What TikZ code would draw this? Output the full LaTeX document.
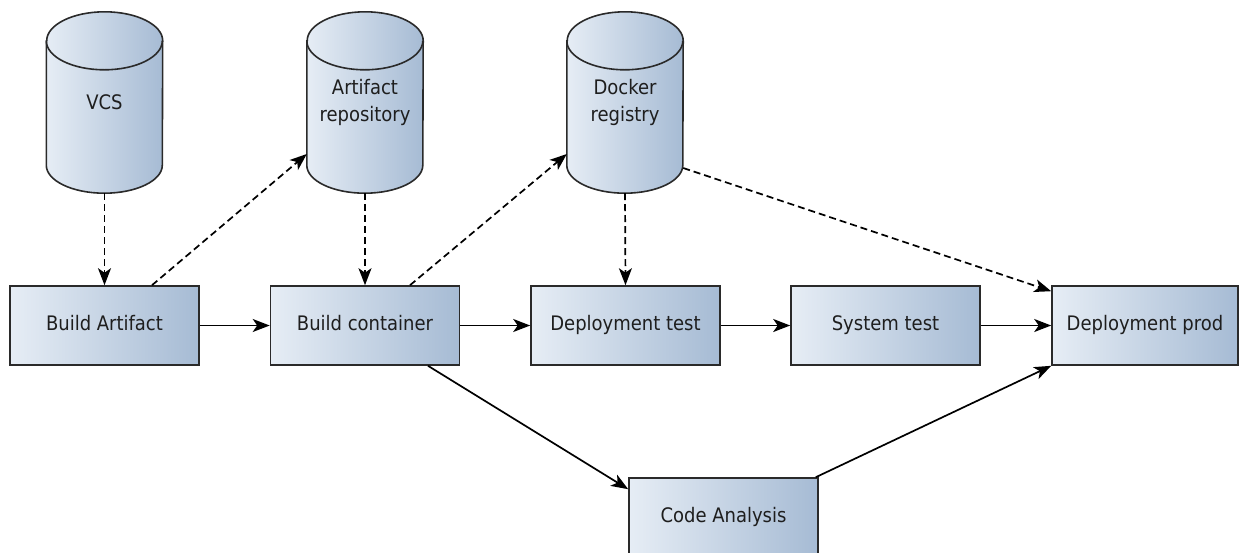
\documentclass[tikz,border=0pt]{standalone}
\usepackage{fontspec}
\setmainfont{DejaVu Sans Condensed}
\usetikzlibrary{arrows.meta,calc,backgrounds}

\definecolor{fillhi}{HTML}{E6EDF5}
\definecolor{filllo}{HTML}{A6BBD4}
\definecolor{edge}{HTML}{2A2A2A}
\definecolor{ink}{HTML}{1E1E1E}

\tikzset{
  stagebox/.style={draw=edge, line width=1.6pt, left color=fillhi, right color=filllo,
    minimum width=189pt, minimum height=79pt, inner sep=0pt,
    text height=15pt, text depth=4.5pt,
    font=\fontsize{20}{27}\selectfont, text=ink},
  storelabel/.style={minimum width=116pt, minimum height=181pt, inner sep=0pt,
    align=center, font=\fontsize{20}{27}\selectfont, text=ink},
  drumfill/.style={draw=edge, line width=1.6pt, left color=fillhi, right color=filllo},
  drumline/.style={draw=edge, line width=1.6pt},
  flow/.style={draw=black, line width=1.7pt, -{Stealth[length=17pt,width=13pt,inset=4.5pt]}},
  feed/.style={flow, dash pattern=on 7pt off 4pt},
}

% storage drum drawn behind a named label node
\newcommand\storedrum[1]{%
  \path[drumfill] ([yshift=-29pt]#1.north west) -- ([yshift=28pt]#1.south west)
    arc[start angle=180,end angle=360,x radius=58pt,y radius=28pt]
    -- ([yshift=-29pt]#1.north east)
    arc[start angle=0,end angle=180,x radius=58pt,y radius=29pt] -- cycle;
  \draw[drumline] ([yshift=-29pt]#1.north west)
    arc[start angle=180,end angle=360,x radius=58pt,y radius=29pt];
}

\begin{document}
\begin{tikzpicture}[x=1pt,y=-1pt]
\useasboundingbox (0,0) rectangle (1239,552);

% data stores
\node[storelabel] (vcs)    at (104.5,102.5) {VCS};
\node[storelabel] (repo)   at (365,102.5)   {Artifact\\repository};
\node[storelabel] (docker) at (625,102.5)   {Docker\\registry};
\begin{scope}[on background layer]
  \storedrum{vcs}
  \storedrum{repo}
  \storedrum{docker}
\end{scope}

% pipeline stages
\node[stagebox] (ba) at (104.5,325.5) {Build Artifact};
\node[stagebox] (bc) at (365,325.5)   {Build container};
\node[stagebox] (dt) at (625.5,325.5) {Deployment test};
\node[stagebox] (st) at (885.5,325.5) {System test};
\node[stagebox, minimum width=186pt] (dp) at (1145,325.5) {Deployment prod};
\node[stagebox] (ca) at (723.5,517.5) {Code Analysis};

% main flow
\draw[flow] (ba.east) -- (bc.west);
\draw[flow] (bc.east) -- (dt.west);
\draw[flow] (dt.east) -- (st.west);
\draw[flow] (st.east) -- (dp.west);
\draw[flow] ([xshift=63pt]bc.south) -- ([yshift=-12pt]ca.north west);
\draw[flow] ([xshift=-3pt]ca.north east) -- (dp.south west);

% artifact traffic with the stores
\draw[feed] (vcs.south) -- (ba.north);
\draw[feed] ([xshift=47.5pt]ba.north) -- ([yshift=-51.5pt]repo.west);
\draw[feed] (repo.south) -- (bc.north);
\draw[feed] ([xshift=45pt]bc.north) -- ([yshift=-51.5pt]docker.west);
\draw[feed] (docker.south) -- (dt.north);
\draw[feed] ([yshift=-65.5pt]docker.east) -- ([yshift=-6pt]dp.north west);
\end{tikzpicture}
\end{document}
